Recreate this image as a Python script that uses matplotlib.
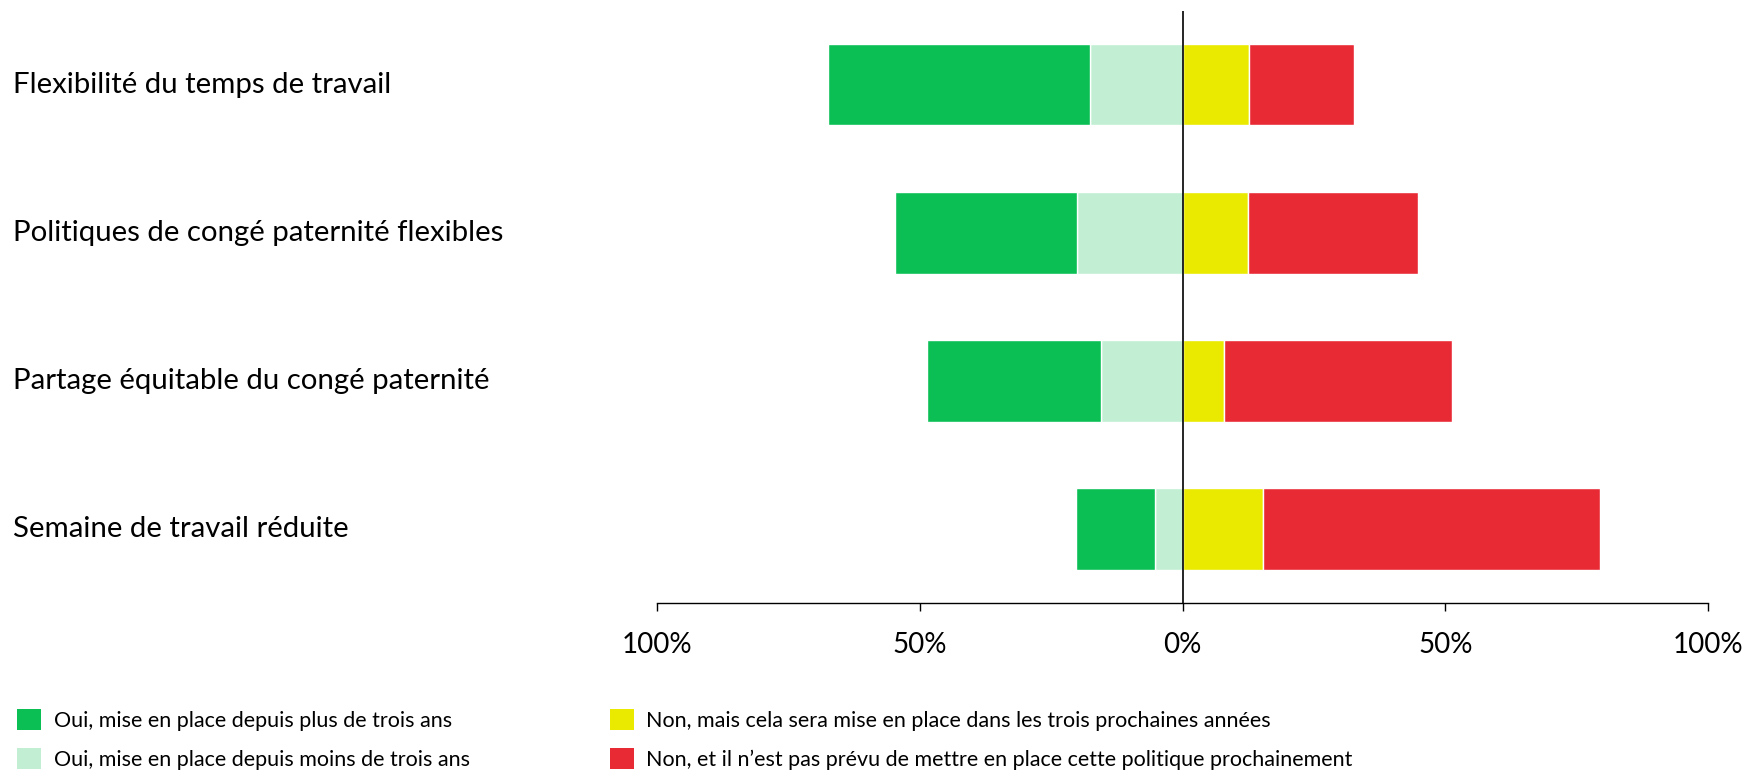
import matplotlib
matplotlib.use("Agg")
import matplotlib.pyplot as plt
from matplotlib.patches import Patch
from matplotlib.transforms import blended_transform_factory

plt.rcParams['font.family'] = ['Lato', 'DejaVu Sans']

categories = [
    "Flexibilité du temps de travail",
    "Politiques de congé paternité flexibles",
    "Partage équitable du congé paternité",
    "Semaine de travail réduite",
]
oui_plus = [49.8, 34.7, 33.1, 15.1]
oui_moins = [17.6, 20.1, 15.5, 5.2]
non_bientot = [12.6, 12.5, 7.9, 15.3]
non_jamais = [20.0, 32.3, 43.3, 64.2]

series_labels = [
    "Oui, mise en place depuis plus de trois ans",
    "Oui, mise en place depuis moins de trois ans",
    "Non, mais cela sera mise en place dans les trois prochaines années",
    "Non, et il n\u2019est pas prévu de mettre en place cette politique prochainement",
]
colors = ["#0BBF55", "#C2EFD4", "#EAEA00", "#E82A35"]

tick_values = [-100, -50, 0, 50, 100]
tick_labels = ["100%", "50%", "0%", "50%", "100%"]

W, H = 1747, 772
fig = plt.figure(figsize=(W / 100, H / 100), dpi=100)
ax = fig.add_axes([657 / W, (H - 603) / H, 1051 / W, (603 - 10.7) / H])

y = list(range(len(categories)))
bar_h = 0.55
edge = dict(edgecolor="white", linewidth=1)

neg_moins = [-v for v in oui_moins]
neg_plus = [-v for v in oui_plus]
ax.barh(y, neg_moins, left=0, height=bar_h, color=colors[1], **edge)
ax.barh(y, neg_plus, left=neg_moins, height=bar_h, color=colors[0], **edge)
ax.barh(y, non_bientot, left=0, height=bar_h, color=colors[2], **edge)
ax.barh(y, non_jamais, left=non_bientot, height=bar_h, color=colors[3], **edge)

ax.axvline(0, color="black", linewidth=1.2, zorder=5)

ax.set_xlim(-100, 100)
ax.set_ylim(len(categories) - 0.5, -0.5)

for side in ("left", "top", "right"):
    ax.spines[side].set_visible(False)
ax.spines["bottom"].set_bounds(-100, 100)
ax.spines["bottom"].set_linewidth(1.0)
ax.set_yticks([])
ax.set_xticks(tick_values)
ax.set_xticklabels(tick_labels, fontsize=20)
ax.tick_params(axis="x", length=6, width=1.0, pad=15)

trans = blended_transform_factory(fig.transFigure, ax.transData)
for yi, cat in zip(y, categories):
    ax.text(13 / W, yi, cat, transform=trans, ha="left", va="center",
            fontsize=21.2, clip_on=False)

handles = [Patch(facecolor=c, edgecolor="none") for c in colors]
fig.legend(handles, series_labels, ncol=2, loc="upper left",
           bbox_to_anchor=(17 / W, 1 - 709 / H), frameon=False,
           fontsize=15.5, handlelength=1.12, handleheight=1.12,
           handletextpad=0.58, columnspacing=6.5, labelspacing=0.8,
           borderpad=0.0, borderaxespad=0.0)

fig.savefig("out.png", dpi=100)
